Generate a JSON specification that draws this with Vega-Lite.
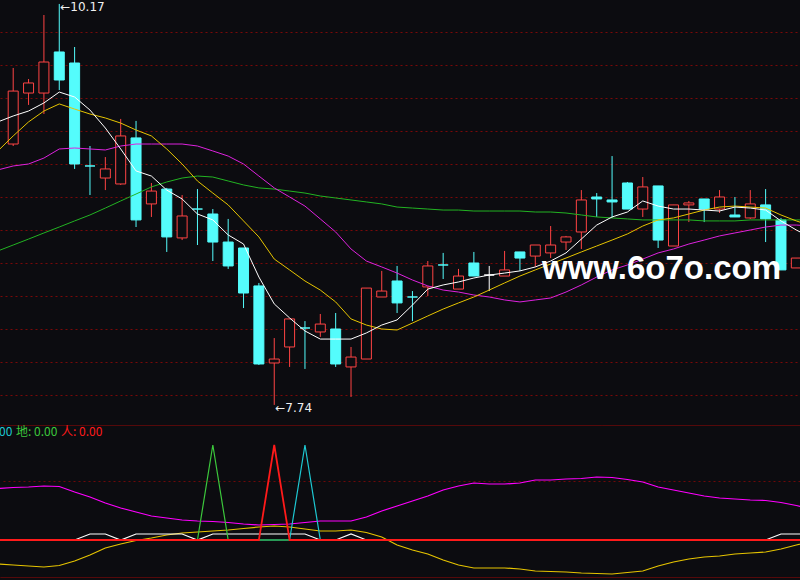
{
  "$schema": "https://vega.github.io/schema/vega-lite/v6.json",
  "width": 800,
  "height": 580,
  "autosize": "none",
  "padding": 0,
  "background": "#0c0c10",
  "config": {"view": {"stroke": null}, "font": "Liberation Sans"},
  "datasets": {
    "candles": [
      {"i": -1, "ma5": 9.455, "ma10": 9.279, "ma20": 9.164, "ma60": 8.673},
      {"i": 0, "open": 9.321, "high": 9.782, "low": 9.309, "close": 9.642, "trend": "up", "ma5": 9.491, "ma10": 9.370, "ma20": 9.188, "ma60": 8.709},
      {"i": 1, "open": 9.630, "high": 9.715, "low": 9.558, "close": 9.691, "trend": "up", "ma5": 9.521, "ma10": 9.455, "ma20": 9.200, "ma60": 8.745},
      {"i": 2, "open": 9.630, "high": 10.103, "low": 9.503, "close": 9.818, "trend": "up", "ma5": 9.570, "ma10": 9.521, "ma20": 9.236, "ma60": 8.782},
      {"i": 3, "open": 9.879, "high": 10.17, "low": 9.648, "close": 9.709, "trend": "down", "ma5": 9.636, "ma10": 9.564, "ma20": 9.291, "ma60": 8.818},
      {"i": 4, "open": 9.812, "high": 9.909, "low": 9.170, "close": 9.200, "trend": "down", "ma5": 9.606, "ma10": 9.533, "ma20": 9.297, "ma60": 8.855},
      {"i": 5, "open": 9.188, "high": 9.309, "low": 9.012, "close": 9.188, "trend": "down", "ma5": 9.527, "ma10": 9.503, "ma20": 9.291, "ma60": 8.891},
      {"i": 6, "open": 9.115, "high": 9.242, "low": 9.042, "close": 9.170, "trend": "up", "ma5": 9.418, "ma10": 9.479, "ma20": 9.285, "ma60": 8.933},
      {"i": 7, "open": 9.079, "high": 9.473, "low": 9.073, "close": 9.370, "trend": "up", "ma5": 9.291, "ma10": 9.448, "ma20": 9.309, "ma60": 8.976},
      {"i": 8, "open": 9.358, "high": 9.461, "low": 8.818, "close": 8.861, "trend": "down", "ma5": 9.158, "ma10": 9.406, "ma20": 9.321, "ma60": 9.018},
      {"i": 9, "open": 8.958, "high": 9.085, "low": 8.879, "close": 9.036, "trend": "up", "ma5": 9.127, "ma10": 9.370, "ma20": 9.321, "ma60": 9.061},
      {"i": 10, "open": 9.048, "high": 9.055, "low": 8.667, "close": 8.758, "trend": "down", "ma5": 9.042, "ma10": 9.291, "ma20": 9.321, "ma60": 9.091},
      {"i": 11, "open": 8.752, "high": 9.012, "low": 8.739, "close": 8.885, "trend": "up", "ma5": 8.988, "ma10": 9.200, "ma20": 9.321, "ma60": 9.115},
      {"i": 12, "open": 8.927, "high": 9.048, "low": 8.709, "close": 8.927, "trend": "down", "ma5": 8.897, "ma10": 9.097, "ma20": 9.309, "ma60": 9.127},
      {"i": 13, "open": 8.897, "high": 8.927, "low": 8.612, "close": 8.727, "trend": "down", "ma5": 8.861, "ma10": 9.024, "ma20": 9.279, "ma60": 9.121},
      {"i": 14, "open": 8.727, "high": 8.867, "low": 8.564, "close": 8.582, "trend": "down", "ma5": 8.770, "ma10": 8.952, "ma20": 9.248, "ma60": 9.097},
      {"i": 15, "open": 8.691, "high": 8.691, "low": 8.327, "close": 8.418, "trend": "down", "ma5": 8.715, "ma10": 8.855, "ma20": 9.200, "ma60": 9.073},
      {"i": 16, "open": 8.461, "high": 8.479, "low": 7.982, "close": 7.988, "trend": "down", "ma5": 8.515, "ma10": 8.758, "ma20": 9.127, "ma60": 9.055},
      {"i": 17, "open": 7.994, "high": 8.145, "low": 7.74, "close": 8.018, "trend": "up", "ma5": 8.352, "ma10": 8.624, "ma20": 9.055, "ma60": 9.048},
      {"i": 18, "open": 8.091, "high": 8.261, "low": 7.970, "close": 8.261, "trend": "up", "ma5": 8.267, "ma10": 8.558, "ma20": 9.000, "ma60": 9.036},
      {"i": 19, "open": 8.206, "high": 8.248, "low": 7.958, "close": 8.206, "trend": "down", "ma5": 8.188, "ma10": 8.491, "ma20": 8.945, "ma60": 9.024},
      {"i": 20, "open": 8.182, "high": 8.291, "low": 8.152, "close": 8.230, "trend": "up", "ma5": 8.139, "ma10": 8.436, "ma20": 8.867, "ma60": 9.006},
      {"i": 21, "open": 8.200, "high": 8.297, "low": 7.970, "close": 7.988, "trend": "down", "ma5": 8.139, "ma10": 8.364, "ma20": 8.788, "ma60": 8.994},
      {"i": 22, "open": 7.970, "high": 8.091, "low": 7.788, "close": 8.030, "trend": "up", "ma5": 8.139, "ma10": 8.261, "ma20": 8.685, "ma60": 8.982},
      {"i": 23, "open": 8.018, "high": 8.448, "low": 8.018, "close": 8.448, "trend": "up", "ma5": 8.176, "ma10": 8.224, "ma20": 8.612, "ma60": 8.970},
      {"i": 24, "open": 8.394, "high": 8.552, "low": 8.394, "close": 8.430, "trend": "up", "ma5": 8.224, "ma10": 8.200, "ma20": 8.576, "ma60": 8.958},
      {"i": 25, "open": 8.491, "high": 8.582, "low": 8.297, "close": 8.358, "trend": "down", "ma5": 8.255, "ma10": 8.194, "ma20": 8.539, "ma60": 8.939},
      {"i": 26, "open": 8.394, "high": 8.430, "low": 8.248, "close": 8.394, "trend": "down", "ma5": 8.345, "ma10": 8.236, "ma20": 8.497, "ma60": 8.933},
      {"i": 27, "open": 8.455, "high": 8.612, "low": 8.400, "close": 8.582, "trend": "up", "ma5": 8.442, "ma10": 8.279, "ma20": 8.461, "ma60": 8.927},
      {"i": 28, "open": 8.588, "high": 8.661, "low": 8.503, "close": 8.588, "trend": "down", "ma5": 8.467, "ma10": 8.321, "ma20": 8.436, "ma60": 8.921},
      {"i": 29, "open": 8.442, "high": 8.564, "low": 8.442, "close": 8.521, "trend": "up", "ma5": 8.485, "ma10": 8.358, "ma20": 8.424, "ma60": 8.921},
      {"i": 30, "open": 8.600, "high": 8.667, "low": 8.521, "close": 8.521, "trend": "down", "ma5": 8.509, "ma10": 8.394, "ma20": 8.406, "ma60": 8.915},
      {"i": 31, "open": 8.527, "high": 8.582, "low": 8.430, "close": 8.527, "trend": "flat", "ma5": 8.527, "ma10": 8.436, "ma20": 8.394, "ma60": 8.915},
      {"i": 32, "open": 8.521, "high": 8.673, "low": 8.521, "close": 8.558, "trend": "up", "ma5": 8.539, "ma10": 8.479, "ma20": 8.376, "ma60": 8.915},
      {"i": 33, "open": 8.667, "high": 8.667, "low": 8.552, "close": 8.630, "trend": "down", "ma5": 8.552, "ma10": 8.521, "ma20": 8.364, "ma60": 8.915},
      {"i": 34, "open": 8.642, "high": 8.709, "low": 8.576, "close": 8.709, "trend": "up", "ma5": 8.576, "ma10": 8.558, "ma20": 8.376, "ma60": 8.909},
      {"i": 35, "open": 8.661, "high": 8.824, "low": 8.630, "close": 8.709, "trend": "up", "ma5": 8.612, "ma10": 8.594, "ma20": 8.388, "ma60": 8.909},
      {"i": 36, "open": 8.727, "high": 8.764, "low": 8.679, "close": 8.758, "trend": "up", "ma5": 8.661, "ma10": 8.630, "ma20": 8.424, "ma60": 8.903},
      {"i": 37, "open": 8.788, "high": 9.042, "low": 8.685, "close": 8.982, "trend": "up", "ma5": 8.745, "ma10": 8.667, "ma20": 8.467, "ma60": 8.891},
      {"i": 38, "open": 9.000, "high": 9.024, "low": 8.879, "close": 8.988, "trend": "down", "ma5": 8.830, "ma10": 8.703, "ma20": 8.515, "ma60": 8.879},
      {"i": 39, "open": 8.982, "high": 9.248, "low": 8.873, "close": 8.970, "trend": "down", "ma5": 8.879, "ma10": 8.739, "ma20": 8.558, "ma60": 8.873},
      {"i": 40, "open": 9.085, "high": 9.091, "low": 8.927, "close": 8.927, "trend": "down", "ma5": 8.909, "ma10": 8.776, "ma20": 8.588, "ma60": 8.867},
      {"i": 41, "open": 8.927, "high": 9.121, "low": 8.879, "close": 9.061, "trend": "up", "ma5": 8.976, "ma10": 8.824, "ma20": 8.624, "ma60": 8.861},
      {"i": 42, "open": 9.067, "high": 9.067, "low": 8.691, "close": 8.739, "trend": "down", "ma5": 8.945, "ma10": 8.861, "ma20": 8.661, "ma60": 8.861},
      {"i": 43, "open": 8.703, "high": 8.952, "low": 8.703, "close": 8.952, "trend": "up", "ma5": 8.927, "ma10": 8.873, "ma20": 8.685, "ma60": 8.861},
      {"i": 44, "open": 8.952, "high": 8.976, "low": 8.848, "close": 8.964, "trend": "up", "ma5": 8.927, "ma10": 8.897, "ma20": 8.715, "ma60": 8.861},
      {"i": 45, "open": 8.988, "high": 8.988, "low": 8.848, "close": 8.927, "trend": "down", "ma5": 8.921, "ma10": 8.921, "ma20": 8.739, "ma60": 8.855},
      {"i": 46, "open": 8.927, "high": 9.042, "low": 8.903, "close": 9.000, "trend": "up", "ma5": 8.915, "ma10": 8.939, "ma20": 8.764, "ma60": 8.855},
      {"i": 47, "open": 8.891, "high": 9.000, "low": 8.879, "close": 8.879, "trend": "down", "ma5": 8.939, "ma10": 8.945, "ma20": 8.782, "ma60": 8.855},
      {"i": 48, "open": 8.873, "high": 9.042, "low": 8.867, "close": 8.958, "trend": "up", "ma5": 8.933, "ma10": 8.939, "ma20": 8.800, "ma60": 8.861},
      {"i": 49, "open": 8.952, "high": 9.048, "low": 8.727, "close": 8.867, "trend": "down", "ma5": 8.921, "ma10": 8.933, "ma20": 8.818, "ma60": 8.861},
      {"i": 50, "open": 8.861, "high": 8.873, "low": 8.558, "close": 8.558, "trend": "down", "ma5": 8.855, "ma10": 8.891, "ma20": 8.830, "ma60": 8.861},
      {"i": 51, "open": 8.570, "high": 8.630, "low": 8.570, "close": 8.630, "trend": "up", "ma5": 8.800, "ma10": 8.855, "ma20": 8.830, "ma60": 8.861},
      {"i": 52, "ma5": 8.752, "ma10": 8.824, "ma20": 8.824, "ma60": 8.861}
    ],
    "ind": [
      {"i": -1, "mag": 51.5, "yel": -24, "wht": 0, "tian": 0, "di": 0, "ren": 0},
      {"i": 0, "mag": 52.5, "yel": -25, "wht": 0, "tian": 0, "di": 0, "ren": 0},
      {"i": 1, "mag": 53, "yel": -26, "wht": 0, "tian": 0, "di": 0, "ren": 0},
      {"i": 2, "mag": 54, "yel": -27, "wht": 0, "tian": 0, "di": 0, "ren": 0},
      {"i": 3, "mag": 53.5, "yel": -25.5, "wht": 0, "tian": 0, "di": 0, "ren": 0},
      {"i": 4, "mag": 48, "yel": -21, "wht": 0, "tian": 0, "di": 0, "ren": 0},
      {"i": 5, "mag": 43, "yel": -15, "wht": 6, "tian": 0, "di": 0, "ren": 0},
      {"i": 6, "mag": 37, "yel": -8, "wht": 6, "tian": 0, "di": 0, "ren": 0},
      {"i": 7, "mag": 32, "yel": -4, "wht": 0, "tian": 0, "di": 0, "ren": 0},
      {"i": 8, "mag": 28, "yel": -0.5, "wht": 6, "tian": 0, "di": 0, "ren": 0},
      {"i": 9, "mag": 24, "yel": 2, "wht": 6, "tian": 0, "di": 0, "ren": 0},
      {"i": 10, "mag": 22, "yel": 5, "wht": 6, "tian": 0, "di": 0, "ren": 0},
      {"i": 11, "mag": 20, "yel": 7, "wht": 6, "tian": 0, "di": 0, "ren": 0},
      {"i": 12, "mag": 19, "yel": 8, "wht": 0, "tian": 0, "di": 0, "ren": 0},
      {"i": 13, "mag": 18.5, "yel": 9, "wht": 6, "tian": 0, "di": 95, "ren": 0},
      {"i": 14, "mag": 17.5, "yel": 10, "wht": 6, "tian": 0, "di": 0, "ren": 0},
      {"i": 15, "mag": 16, "yel": 11.5, "wht": 6, "tian": 0, "di": 0, "ren": 0},
      {"i": 16, "mag": 15, "yel": 13, "wht": 6, "tian": 0, "di": 0, "ren": 0},
      {"i": 17, "mag": 15.5, "yel": 14, "wht": 6, "tian": 0, "di": 0, "ren": 95},
      {"i": 18, "mag": 16, "yel": 13, "wht": 6, "tian": 0, "di": 0, "ren": 0},
      {"i": 19, "mag": 17.5, "yel": 11, "wht": 6, "tian": 95, "di": 0, "ren": 0},
      {"i": 20, "mag": 19, "yel": 9, "wht": 0, "tian": 0, "di": 0, "ren": 0},
      {"i": 21, "mag": 19, "yel": 9, "wht": 0, "tian": 0, "di": 0, "ren": 0},
      {"i": 22, "mag": 19, "yel": 10, "wht": 6, "tian": 0, "di": 0, "ren": 0},
      {"i": 23, "mag": 23, "yel": 7.5, "wht": 0, "tian": 0, "di": 0, "ren": 0},
      {"i": 24, "mag": 29, "yel": 3, "wht": 0, "tian": 0, "di": 0, "ren": 0},
      {"i": 25, "mag": 34, "yel": -5, "wht": 0, "tian": 0, "di": 0, "ren": 0},
      {"i": 26, "mag": 39, "yel": -10, "wht": 0, "tian": 0, "di": 0, "ren": 0},
      {"i": 27, "mag": 44, "yel": -14, "wht": 0, "tian": 0, "di": 0, "ren": 0},
      {"i": 28, "mag": 50, "yel": -20, "wht": 0, "tian": 0, "di": 0, "ren": 0},
      {"i": 29, "mag": 54, "yel": -25, "wht": 0, "tian": 0, "di": 0, "ren": 0},
      {"i": 30, "mag": 57, "yel": -28, "wht": 0, "tian": 0, "di": 0, "ren": 0},
      {"i": 31, "mag": 56, "yel": -28, "wht": 0, "tian": 0, "di": 0, "ren": 0},
      {"i": 32, "mag": 56, "yel": -28, "wht": 0, "tian": 0, "di": 0, "ren": 0},
      {"i": 33, "mag": 57, "yel": -29, "wht": 0, "tian": 0, "di": 0, "ren": 0},
      {"i": 34, "mag": 60, "yel": -31, "wht": 0, "tian": 0, "di": 0, "ren": 0},
      {"i": 35, "mag": 60, "yel": -31.5, "wht": 0, "tian": 0, "di": 0, "ren": 0},
      {"i": 36, "mag": 61, "yel": -32, "wht": 0, "tian": 0, "di": 0, "ren": 0},
      {"i": 37, "mag": 61.5, "yel": -33, "wht": 0, "tian": 0, "di": 0, "ren": 0},
      {"i": 38, "mag": 63, "yel": -33.5, "wht": 0, "tian": 0, "di": 0, "ren": 0},
      {"i": 39, "mag": 62.5, "yel": -34, "wht": 0, "tian": 0, "di": 0, "ren": 0},
      {"i": 40, "mag": 60.5, "yel": -32.5, "wht": 0, "tian": 0, "di": 0, "ren": 0},
      {"i": 41, "mag": 58, "yel": -31, "wht": 0, "tian": 0, "di": 0, "ren": 0},
      {"i": 42, "mag": 53, "yel": -26, "wht": 0, "tian": 0, "di": 0, "ren": 0},
      {"i": 43, "mag": 50, "yel": -22, "wht": 0, "tian": 0, "di": 0, "ren": 0},
      {"i": 44, "mag": 47, "yel": -19, "wht": 0, "tian": 0, "di": 0, "ren": 0},
      {"i": 45, "mag": 44, "yel": -17, "wht": 0, "tian": 0, "di": 0, "ren": 0},
      {"i": 46, "mag": 42, "yel": -16, "wht": 0, "tian": 0, "di": 0, "ren": 0},
      {"i": 47, "mag": 41, "yel": -14, "wht": 0, "tian": 0, "di": 0, "ren": 0},
      {"i": 48, "mag": 40, "yel": -13, "wht": 0, "tian": 0, "di": 0, "ren": 0},
      {"i": 49, "mag": 39.5, "yel": -12, "wht": 0, "tian": 0, "di": 0, "ren": 0},
      {"i": 50, "mag": 37.5, "yel": -9, "wht": 6, "tian": 0, "di": 0, "ren": 0},
      {"i": 51, "mag": 34.5, "yel": -5, "wht": 6, "tian": 0, "di": 0, "ren": 0},
      {"i": 52, "mag": 31, "yel": -1, "wht": 6, "tian": 0, "di": 0, "ren": 0}
    ],
    "extremes": [
      {"i": 3, "price": 10.17, "label": "←10.17"},
      {"i": 17, "price": 7.74, "label": "←7.74"}
    ],
    "watermark": [
      {"i": 42.22, "price": 8.503, "label": "www.6o7o.com"}
    ]
  },
  "encoding": {
    "x": {
      "field": "i",
      "type": "quantitative",
      "scale": {"domain": [-0.534, 50.913], "nice": false, "zero": false},
      "axis": null
    }
  },
  "layer": [
    {
      "data": {"name": "candles"},
      "layer": [
        {
          "mark": {"type": "rule", "strokeWidth": 1},
          "encoding": {
            "y": {
              "field": "low",
              "type": "quantitative",
              "title": null,
              "scale": {"domain": [6.6788, 10.1939], "nice": false, "zero": false},
              "axis": {
                "values": [7.8, 8.0, 8.2, 8.4, 8.6, 8.8, 9.0, 9.2, 9.4, 9.6, 9.8, 10.0],
                "grid": true,
                "gridColor": "#7a0808",
                "gridDash": [2, 3],
                "labels": false,
                "ticks": false,
                "domain": false,
                "title": null
              }
            },
            "y2": {"field": "high"},
            "stroke": {
              "condition": [
                {"test": "datum.trend === 'up'", "value": "#ff4444"},
                {"test": "datum.trend === 'down'", "value": "#54fcfc"}
              ],
              "value": "#ffffff"
            }
          }
        },
        {
          "mark": {"type": "bar", "size": 10, "strokeWidth": 1},
          "encoding": {
            "y": {"field": "open", "type": "quantitative", "title": null},
            "y2": {"field": "close"},
            "fill": {
              "condition": [
                {"test": "datum.trend === 'up'", "value": "#0c0c10"},
                {"test": "datum.trend === 'down'", "value": "#54fcfc"}
              ],
              "value": "#ffffff"
            },
            "stroke": {
              "condition": [
                {"test": "datum.trend === 'up'", "value": "#ff4444"},
                {"test": "datum.trend === 'down'", "value": "#54fcfc"}
              ],
              "value": "#ffffff"
            }
          }
        },
        {
          "mark": {"type": "line", "color": "#22b322", "strokeWidth": 1, "clip": true},
          "encoding": {"y": {"field": "ma60", "type": "quantitative", "title": null}}
        },
        {
          "mark": {"type": "line", "color": "#dd22dd", "strokeWidth": 1, "clip": true},
          "encoding": {"y": {"field": "ma20", "type": "quantitative", "title": null}}
        },
        {
          "mark": {"type": "line", "color": "#e6c400", "strokeWidth": 1, "clip": true},
          "encoding": {"y": {"field": "ma10", "type": "quantitative", "title": null}}
        },
        {
          "mark": {"type": "line", "color": "#ffffff", "strokeWidth": 1, "clip": true},
          "encoding": {"y": {"field": "ma5", "type": "quantitative", "title": null}}
        },
        {
          "data": {"name": "extremes"},
          "mark": {"type": "text", "align": "left", "baseline": "middle", "dx": 1, "dy": 3, "fontSize": 12, "font": "DejaVu Sans", "color": "#f0f0f0"},
          "encoding": {
            "y": {"field": "price", "type": "quantitative", "title": null},
            "text": {"field": "label"}
          }
        },
        {
          "data": {"name": "watermark"},
          "mark": {"type": "text", "font": "Liberation Sans", "fontWeight": "bold", "fontSize": 33, "color": "#ffffff", "align": "center", "baseline": "alphabetic"},
          "encoding": {
            "y": {"field": "price", "type": "quantitative", "title": null},
            "text": {"field": "label"}
          }
        }
      ]
    },
    {
      "data": {"name": "ind"},
      "layer": [
        {
          "mark": {"type": "line", "color": "#ff00ff", "strokeWidth": 1.2, "clip": true},
          "encoding": {
            "y": {
              "field": "mag",
              "type": "quantitative",
              "title": null,
              "scale": {"domain": [-40, 540], "nice": false, "zero": false},
              "axis": {
                "values": [-37, 59, 115],
                "grid": true,
                "gridColor": "#6e0808",
                "gridDash": {"condition": {"test": "datum.value === 59", "value": [2, 3]}, "value": [1, 0]},
                "labels": false,
                "ticks": false,
                "domain": false,
                "title": null
              }
            }
          }
        },
        {
          "mark": {"type": "line", "color": "#e6c400", "strokeWidth": 1.2, "clip": true},
          "encoding": {"y": {"field": "yel", "type": "quantitative", "title": null}}
        },
        {
          "mark": {"type": "line", "color": "#ffffff", "strokeWidth": 1.2, "clip": true},
          "encoding": {"y": {"field": "wht", "type": "quantitative", "title": null}}
        },
        {
          "mark": {"type": "line", "strokeWidth": 1.2, "clip": true},
          "encoding": {
            "y": {"field": "tian", "type": "quantitative", "title": null},
            "color": {
              "datum": "天",
              "type": "nominal",
              "scale": {"domain": ["天", "地", "人"], "range": ["#1ec8d2", "#3cc83c", "#ff1a1a"]},
              "legend": {
                "orient": "none",
                "legendX": -30,
                "legendY": 426,
                "direction": "horizontal",
                "title": null,
                "symbolSize": 0,
                "symbolStrokeWidth": 0,
                "symbolOpacity": 0,
                "labelOffset": -11,
                "columnPadding": 2,
                "labelFont": "Noto Sans CJK SC",
                "labelFontSize": 12,
                "labelExpr": "datum.label + ': 0.00'",
                "labelColor": {"expr": "datum.value === '天' ? '#1ec8d2' : datum.value === '地' ? '#3cc83c' : '#ff1a1a'"}
              }
            }
          }
        },
        {
          "mark": {"type": "line", "strokeWidth": 1.2, "clip": true},
          "encoding": {
            "y": {"field": "di", "type": "quantitative", "title": null},
            "color": {"datum": "地", "type": "nominal"}
          }
        },
        {
          "mark": {"type": "line", "strokeWidth": 1.8, "clip": true},
          "encoding": {
            "y": {"field": "ren", "type": "quantitative", "title": null},
            "color": {"datum": "人", "type": "nominal"}
          }
        }
      ]
    }
  ],
  "resolve": {"scale": {"y": "independent"}}
}
